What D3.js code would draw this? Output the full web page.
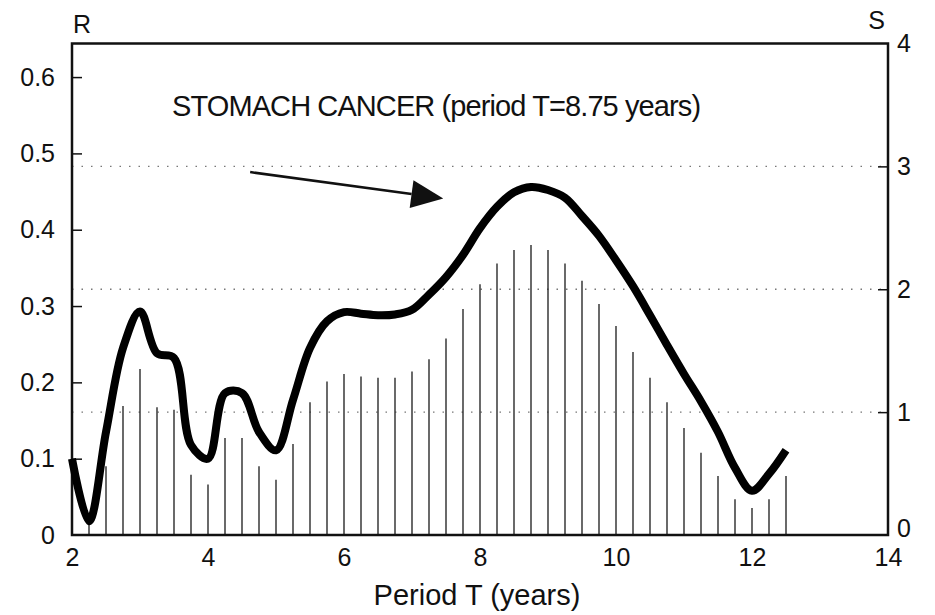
<!DOCTYPE html>
<html>
<head>
<meta charset="utf-8">
<script src="https://cdn.jsdelivr.net/npm/d3@7"></script>
<style>
  body { margin: 0; background: #fff; }
  svg { display: block; font-family: "Liberation Sans", Arial, sans-serif; }
</style>
</head>
<body>
<svg id="canvas"></svg>
<script>
let width = 935
let height = 615

// period T (years) of the spectral lines, and their height on the S scale
let linePeriods = [2.25, 2.5, 2.75, 3, 3.25, 3.5, 3.75, 4, 4.25, 4.5, 4.75, 5, 5.25, 5.5,
  5.75, 6, 6.25, 6.5, 6.75, 7, 7.25, 7.5, 7.75, 8, 8.25, 8.5, 8.75, 9, 9.25, 9.5,
  9.75, 10, 10.25, 10.5, 10.75, 11, 11.25, 11.5, 11.75, 12, 12.25, 12.5]
let lineS = [0.12, 0.56, 1.05, 1.35, 1.04, 1.02, 0.49, 0.41, 0.79, 0.79, 0.56, 0.45, 0.74, 1.08,
  1.25, 1.31, 1.29, 1.28, 1.28, 1.33, 1.43, 1.60, 1.84, 2.04, 2.21, 2.32, 2.36, 2.32, 2.21, 2.07,
  1.88, 1.70, 1.49, 1.28, 1.08, 0.87, 0.67, 0.48, 0.29, 0.22, 0.29, 0.48]

// smooth R curve sampled every quarter year
let curveT = [2, 2.25, 2.5, 2.75, 3, 3.25, 3.5, 3.75, 4, 4.25, 4.5, 4.75, 5, 5.25, 5.5,
  5.75, 6, 6.25, 6.5, 6.75, 7, 7.25, 7.5, 7.75, 8, 8.25, 8.5, 8.75, 9, 9.25, 9.5,
  9.75, 10, 10.25, 10.5, 10.75, 11, 11.25, 11.5, 11.75, 12, 12.25, 12.5]
let curveR = [0.100, 0.018, 0.135, 0.245, 0.293, 0.238, 0.232, 0.118, 0.100, 0.186, 0.186, 0.135, 0.111, 0.177, 0.245,
  0.280, 0.292, 0.290, 0.288, 0.289, 0.295, 0.315, 0.338, 0.367, 0.402, 0.430, 0.449, 0.456, 0.452, 0.442, 0.418,
  0.392, 0.360, 0.326, 0.288, 0.249, 0.211, 0.175, 0.135, 0.088, 0.058, 0.080, 0.111]

let xTicks = [2, 4, 6, 8, 10, 12, 14]
let rTicks = [0, 0.1, 0.2, 0.3, 0.4, 0.5, 0.6]
let sTicks = [0, 1, 2, 3, 4]
let gridS = [1, 2, 3]

let title = 'STOMACH CANCER (period T=8.75 years)'
let xTitle = 'Period T (years)'

let plotL = 72, plotR = 888, plotT = 43.5, plotB = 535

let canvas = d3.select('#canvas')
canvas.attr('width', width).attr('height', height)

let xScale = d3.scaleLinear().domain([2, 14]).range([plotL, plotR])
let rScale = d3.scaleLinear().domain([0, 0.644]).range([plotB, plotT])
let sScale = d3.scaleLinear().domain([0, 4]).range([plotB, plotT])

/* dotted grid at S = 1, 2, 3 */
canvas.selectAll('line.grid')
  .data(gridS)
  .enter()
  .append('line')
  .attr('class', 'grid')
  .attr('x1', plotL).attr('x2', plotR)
  .attr('y1', d => sScale(d)).attr('y2', d => sScale(d))
  .attr('stroke', '#777')
  .attr('stroke-width', 1.3)
  .attr('stroke-dasharray', '1.5 8')

/* spectral lines */
canvas.selectAll('line.spec')
  .data(linePeriods)
  .enter()
  .append('line')
  .attr('class', 'spec')
  .attr('x1', d => xScale(d)).attr('x2', d => xScale(d))
  .attr('y1', plotB)
  .attr('y2', (d, i) => sScale(lineS[i]))
  .attr('stroke', '#2a2a2a')
  .attr('stroke-width', 1.4)

/* axes */
let fs = 25
let gL = canvas.append('g').attr('transform', `translate(${plotL},0)`)
  .call(d3.axisLeft(rScale).tickValues(rTicks).tickSizeInner(-10).tickSizeOuter(0).tickPadding(17)
    .tickFormat(d => d === 0 ? '0' : d3.format('.1f')(d)))
let gR = canvas.append('g').attr('transform', `translate(${plotR},0)`)
  .call(d3.axisRight(sScale).tickValues(sTicks).tickSizeInner(-10).tickSizeOuter(0).tickPadding(9)
    .tickFormat(d3.format('d')))
let gB = canvas.append('g').attr('transform', `translate(0,${plotB})`)
  .call(d3.axisBottom(xScale).tickValues(xTicks).tickSize(0).tickPadding(13))

;[gL, gR, gB].forEach(g => {
  g.select('.domain').remove()
  g.selectAll('line').attr('stroke', '#111').attr('stroke-width', 1.5)
  g.selectAll('text').attr('font-size', fs).attr('fill', '#111')
    .style('font-family', '"Liberation Sans", Arial, sans-serif')
})
gL.selectAll('.tick').filter(d => d === 0).select('line').remove()
gR.selectAll('.tick').filter(d => d === 0 || d === 4).select('line').remove()
gR.selectAll('.tick').filter(d => d === 0).select('text').attr('dy', '0.05em')

/* frame */
canvas.append('rect')
  .attr('x', plotL).attr('y', plotT)
  .attr('width', plotR - plotL).attr('height', plotB - plotT)
  .attr('fill', 'none')
  .attr('stroke', '#111')
  .attr('stroke-width', 2.5)

/* R curve */
let line = d3.line()
  .x((d, i) => xScale(curveT[i]))
  .y(d => rScale(d))
  .curve(d3.curveCatmullRom.alpha(0.5))

canvas.append('path')
  .datum(curveR)
  .attr('d', line)
  .attr('fill', 'none')
  .attr('stroke', '#000')
  .attr('stroke-width', 8)
  .attr('stroke-linejoin', 'round')
  .attr('stroke-linecap', 'butt')

/* arrow pointing at the peak */
let tail = [xScale(4.62), rScale(0.4755)]
let tip = [xScale(7.46), rScale(0.441)]
let ang = Math.atan2(tip[1] - tail[1], tip[0] - tail[0])
let headLen = 32, headW = 14
let base = [tip[0] - headLen * Math.cos(ang), tip[1] - headLen * Math.sin(ang)]
canvas.append('line')
  .attr('x1', tail[0]).attr('y1', tail[1])
  .attr('x2', base[0]).attr('y2', base[1])
  .attr('stroke', '#111').attr('stroke-width', 2.5)
canvas.append('polygon')
  .attr('points', [
    tip,
    [base[0] + headW * Math.sin(ang), base[1] - headW * Math.cos(ang)],
    [base[0] - headW * Math.sin(ang), base[1] + headW * Math.cos(ang)]
  ].map(p => p.join(',')).join(' '))
  .attr('fill', '#111')

/* texts */
canvas.append('text')
  .attr('x', 172).attr('y', 116)
  .attr('font-size', 29)
  .attr('letter-spacing', -0.9)
  .attr('fill', '#111')
  .text(title)

canvas.append('text')
  .attr('x', (plotL + plotR) / 2 - 3).attr('y', 605)
  .attr('text-anchor', 'middle')
  .attr('font-size', 29)
  .attr('fill', '#111')
  .text(xTitle)

canvas.append('text')
  .attr('x', 73).attr('y', 33)
  .attr('font-size', fs)
  .attr('fill', '#111')
  .text('R')

canvas.append('text')
  .attr('x', 885).attr('y', 29)
  .attr('text-anchor', 'end')
  .attr('font-size', fs)
  .attr('fill', '#111')
  .text('S')
</script>
</body>
</html>
